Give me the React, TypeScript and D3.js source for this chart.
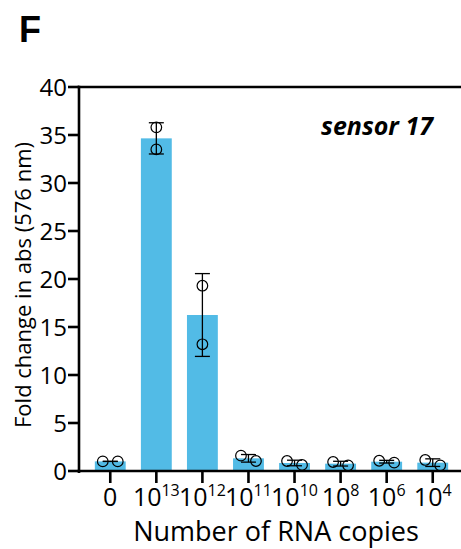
import React from 'react';
import * as d3 from 'd3';

// categories on x: base + exponent (superscript)
const categories = ['0', '13', '12', '11', '10', '8', '6', '4'];
const hasBase = [false, true, true, true, true, true, true, true];

// two replicate values per condition (fold change in abs, 576 nm)
const replicateA = [1.0, 35.8, 19.3, 1.6, 1.04, 0.94, 1.07, 1.15];
const replicateB = [1.0, 33.5, 13.2, 1.04, 0.63, 0.59, 0.87, 0.59];

const yTicks = [0, 5, 10, 15, 20, 25, 30, 35, 40];

const FONT = "'Open Sans', 'Noto Sans', sans-serif";
const BAR = '#52BBE6';

const App = () => {
    const width = 461;
    const height = 549;
    const left = 79;
    const right = 461;
    const top = 87;
    const bottom = 471;

    const x = d3.scaleBand<string>()
        .domain(categories)
        .range([87, 456])
        .paddingInner(0.33)
        .paddingOuter(0.17);

    const y = d3.scaleLinear()
        .domain([0, 40])
        .range([bottom, top]);

    const rows = categories.map((c, i) => {
        const vals = [replicateA[i], replicateB[i]];
        return {
            key: c,
            vals,
            mean: d3.mean(vals) as number,
            sd: d3.deviation(vals) as number,
        };
    });

    const r = 5.3;

    return (
        <svg width={width} height={height} style={{ position: 'absolute', left: 0, top: 0 }}>
            <rect width={width} height={height} fill="white" />
            <text x={19} y={42} fontFamily="'Liberation Sans', Arial, sans-serif" fontWeight="bold" fontSize={36}>F</text>

            {/* bars */}
            {rows.map(d => (
                <rect key={'b' + d.key}
                    x={x(d.key)}
                    y={y(d.mean)}
                    width={x.bandwidth()}
                    height={y(0) - y(d.mean)}
                    fill={BAR} />
            ))}

            {/* error bars (SD) */}
            {rows.map(d => {
                const cx = (x(d.key) as number) + x.bandwidth() / 2;
                return (
                    <g key={'e' + d.key} stroke="black" strokeWidth={1.3}>
                        <line x1={cx} x2={cx} y1={y(d.mean + d.sd)} y2={y(d.mean - d.sd)} />
                        <line x1={cx - 7.5} x2={cx + 7.5} y1={y(d.mean + d.sd)} y2={y(d.mean + d.sd)} />
                        <line x1={cx - 7.5} x2={cx + 7.5} y1={y(d.mean - d.sd)} y2={y(d.mean - d.sd)} />
                    </g>
                );
            })}

            {/* replicate points */}
            {rows.map(d => {
                const cx = (x(d.key) as number) + x.bandwidth() / 2;
                const close = Math.abs(y(d.vals[0]) - y(d.vals[1])) < 2 * r + 2;
                return d.vals.map((v, j) => (
                    <circle key={'p' + d.key + j}
                        cx={close ? cx + (j === 0 ? -7.5 : 7.5) : cx}
                        cy={y(v)}
                        r={r}
                        fill="none"
                        stroke="black"
                        strokeWidth={1.2} />
                ));
            })}

            {/* axes */}
            <g stroke="black" strokeWidth={2.6} fill="none">
                <line x1={left} x2={left} y1={top - 1.3} y2={bottom + 2} />
                <line x1={left - 1.3} x2={right} y1={bottom} y2={bottom} />
                <line x1={left - 1.3} x2={right} y1={top} y2={top} />
                {yTicks.map(t => (
                    <line key={'yt' + t} x1={left - 11} x2={left} y1={y(t)} y2={y(t)} />
                ))}
                {categories.map(c => {
                    const cx = (x(c) as number) + x.bandwidth() / 2;
                    return <line key={'xt' + c} x1={cx} x2={cx} y1={bottom} y2={bottom + 12} />;
                })}
            </g>

            {yTicks.map(t => (
                <text key={'yl' + t} x={left - 12} y={y(t)} dy="0.36em" textAnchor="end"
                    fontFamily={FONT} fontSize={24}>{t}</text>
            ))}

            {categories.map((c, i) => {
                const cx = (x(c) as number) + x.bandwidth() / 2;
                return (
                    <text key={'xl' + c} x={cx} y={506} textAnchor="middle" fontFamily={FONT} fontSize={25}>
                        {hasBase[i] ? (
                            <>
                                <tspan>10</tspan>
                                <tspan fontSize={16} dy={-10}>{c}</tspan>
                            </>
                        ) : c}
                    </text>
                );
            })}

            <text x={276} y={541} textAnchor="middle" fontFamily={FONT} fontSize={27}>Number of RNA copies</text>
            <text transform={`translate(31,${285}) rotate(-90)`} textAnchor="middle"
                fontFamily={FONT} fontSize={22}>Fold change in abs (576 nm)</text>

            <text x={377} y={135} textAnchor="middle" fontFamily={FONT} fontSize={25}
                fontWeight="bold" fontStyle="italic">sensor 17</text>
        </svg>
    );
};

export default App;
